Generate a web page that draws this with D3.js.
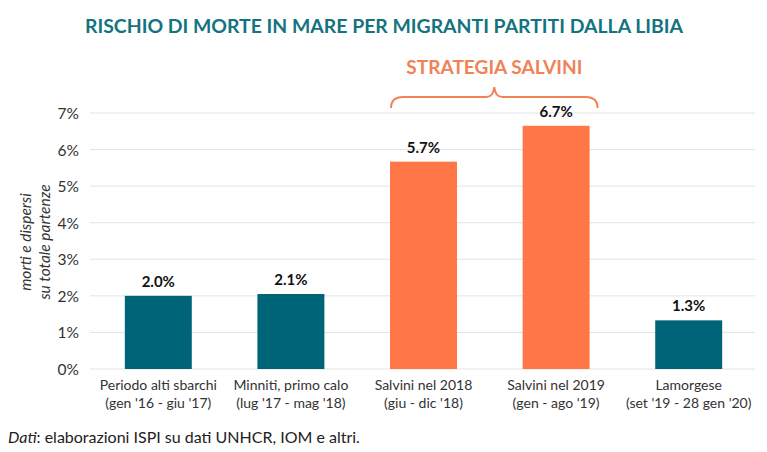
<!DOCTYPE html>
<html><head><meta charset="utf-8">
<script src="https://cdn.jsdelivr.net/npm/d3@7"></script>
<style>body{margin:0;background:#fff}svg{display:block;font-family:Lato,"Open Sans",sans-serif}</style>
</head><body><svg id="c" width="767" height="452"></svg>
<script>
const categories = ["Periodo alti sbarchi|(gen '16 - giu '17)","Minniti, primo calo|(lug '17 - mag '18)","Salvini nel 2018|(giu - dic '18)","Salvini nel 2019|(gen - ago '19)","Lamorgese|(set '19 - 28 gen '20)"];
const values = [2.0, 2.05, 5.67, 6.65, 1.33];
const valueLabels = ["2.0%","2.1%","5.7%","6.7%","1.3%"];
const salvini = [false,false,true,true,false];
const yTicks = [0,1,2,3,4,5,6,7];

const svg = d3.select("#c");
const x = d3.scaleBand().domain(categories).range([92,755]).paddingInner(0.495).paddingOuter(0.2475);
const y = d3.scaleLinear().domain([0,7]).range([369,113]);

svg.append("text").attr("x",384).attr("y",33).attr("text-anchor","middle")
  .attr("fill","#13737f").attr("font-weight","bold").attr("font-size",19.5)
  .attr("textLength",598).attr("lengthAdjust","spacingAndGlyphs")
  .text("RISCHIO DI MORTE IN MARE PER MIGRANTI PARTITI DALLA LIBIA");

// grid
svg.append("g").selectAll("line").data(yTicks).join("line")
  .attr("x1",90).attr("x2",755).attr("y1",d=>y(d)).attr("y2",d=>y(d))
  .attr("stroke","#e3e3e3").attr("stroke-width",1);
const yAxis = d3.axisLeft(y).tickValues(yTicks).tickFormat(d=>d+"%").tickSize(0).tickPadding(0);
const ga = svg.append("g").attr("transform","translate(79,0)").call(yAxis);
ga.select(".domain").remove();
ga.selectAll("text").attr("font-size",15.5).attr("fill","#333").attr("font-family","Lato,sans-serif").attr("dy","0.35em");

// y label
const yl = svg.append("text").attr("transform","translate(31,242) rotate(-90)").attr("text-anchor","middle")
  .attr("font-style","italic").attr("font-size",15.5).attr("fill","#333");
yl.append("tspan").attr("x",0).attr("dy",0).text("morti e dispersi");
yl.append("tspan").attr("x",0).attr("dy",19).text("su totale partenze");

// bars
svg.append("g").selectAll("rect").data(categories).join("rect")
  .attr("x",d=>x(d)).attr("width",x.bandwidth())
  .attr("y",(d,i)=>y(values[i])).attr("height",(d,i)=>y(0)-y(values[i]))
  .attr("fill",(d,i)=>salvini[i]?"#ff7647":"#006478");
svg.append("g").selectAll("text").data(categories).join("text")
  .attr("x",d=>x(d)+x.bandwidth()/2).attr("y",(d,i)=>y(values[i])-9)
  .attr("text-anchor","middle").attr("font-weight","bold").attr("font-size",15).attr("fill","#111")
  .text((d,i)=>valueLabels[i]);

// x labels
const xl = svg.append("g").selectAll("text").data(categories).join("text")
  .attr("x",d=>x(d)+x.bandwidth()/2).attr("y",390).attr("text-anchor","middle")
  .attr("font-size",14).attr("fill","#333");
xl.append("tspan").attr("x",d=>x(d)+x.bandwidth()/2).text(d=>d.split("|")[0]);
xl.append("tspan").attr("x",d=>x(d)+x.bandwidth()/2).attr("dy",18).text(d=>d.split("|")[1]);

// brace
const bx0 = x(categories[2]) + 1, bx1 = x(categories[3]) + x.bandwidth() + 8;
const bm = (bx0+bx1)/2, by = 97, bb = 108;
const r = 8;
const p = d3.path();
p.moveTo(bx0, bb);
p.quadraticCurveTo(bx0, by, bx0+r*1.5, by);
p.lineTo(bm-r, by);
p.quadraticCurveTo(bm-1, by, bm, by-10);
p.quadraticCurveTo(bm+1, by, bm+r, by);
p.lineTo(bx1-r*1.5, by);
p.quadraticCurveTo(bx1, by, bx1, bb);
svg.append("path").attr("d",p.toString()).attr("fill","none").attr("stroke","#f08256").attr("stroke-width",2);
svg.append("text").attr("x",bm).attr("y",74).attr("text-anchor","middle").attr("font-weight","bold")
  .attr("font-size",18).attr("fill","#f08256")
  .attr("textLength",176).attr("lengthAdjust","spacingAndGlyphs").text("STRATEGIA SALVINI");

// footer
const ft = svg.append("text").attr("x",8).attr("y",443).attr("font-size",16).attr("fill","#222");
ft.append("tspan").attr("font-style","italic").text("Dati");
ft.append("tspan").text(": elaborazioni ISPI su dati UNHCR, IOM e altri.");
</script></body></html>
